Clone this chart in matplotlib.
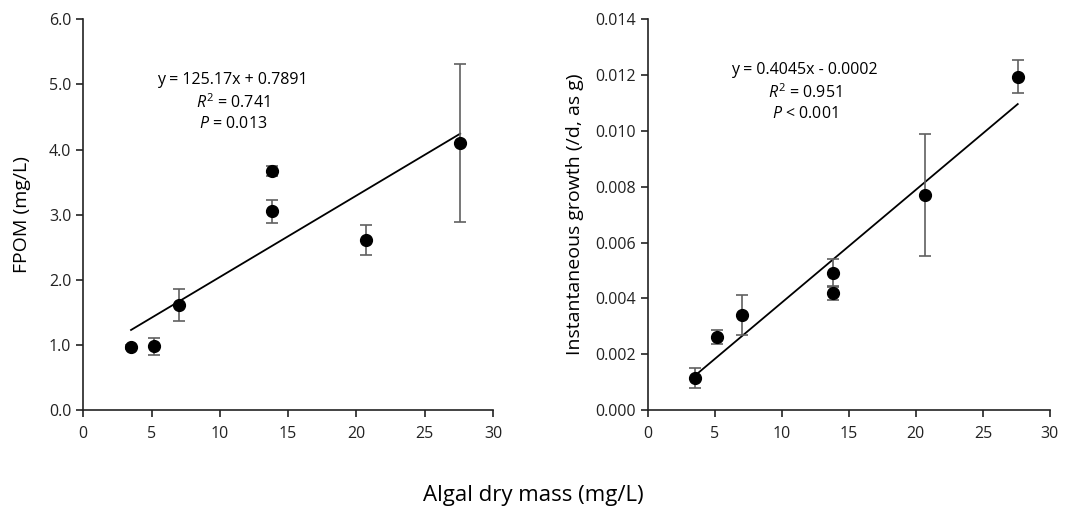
import matplotlib
import numpy as np

matplotlib.use("Agg")
import matplotlib.pyplot as plt

plt.rcParams["font.family"] = ["Open Sans", "DejaVu Sans"]
plt.rcParams["mathtext.fontset"] = "custom"
plt.rcParams["mathtext.rm"] = "Open Sans"
plt.rcParams["mathtext.it"] = "Open Sans:italic"

# algal dry mass (mg/L)
algae = [3.5, 5.2, 7.0, 13.8, 13.8, 20.7, 27.6]

fpom = [0.96, 0.98, 1.61, 3.67, 3.05, 2.61, 4.10]
fpom_err = [0.03, 0.13, 0.25, 0.07, 0.18, 0.23, 1.21]

growth = [0.00115, 0.0026, 0.0034, 0.0049, 0.0042, 0.0077, 0.01195]
growth_err = [0.00035, 0.00025, 0.0007, 0.0005, 0.00025, 0.0022, 0.0006]

# regression on algal mass in g/L
fpom_fit = (125.17, 0.7891)
growth_fit = (0.4045, -0.0002)

fpom_text = "y = 125.17x + 0.7891\n$\\mathit{R}^2$ = 0.741\n$\\mathit{P}$ = 0.013"
growth_text = "y = 0.4045x - 0.0002\n$\\mathit{R}^2$ = 0.951\n$\\mathit{P}$ < 0.001"


def panel(ax, y, yerr, fit, ylim, yticks, fmt, ylabel, pad, note, note_xy):
    x = np.array(algae)
    ax.errorbar(x, y, yerr=yerr, fmt="o", color="black", ms=8.5,
                ecolor="#606060", elinewidth=1.2, capsize=4, capthick=1.2,
                zorder=3)
    xl = np.array([min(algae), max(algae)])
    ax.plot(xl, fit[0] * xl / 1000 + fit[1], color="black", lw=1.3, zorder=2)
    ax.set_xlim(0, 30)
    ax.set_ylim(*ylim)
    ax.set_xticks([0, 5, 10, 15, 20, 25, 30])
    ax.set_yticks(yticks)
    ax.set_yticklabels([fmt.format(v) for v in yticks])
    ax.set_ylabel(ylabel, fontsize=14, labelpad=pad)
    ax.spines["top"].set_visible(False)
    ax.spines["right"].set_visible(False)
    for s in ("left", "bottom"):
        ax.spines[s].set_color("#222222")
        ax.spines[s].set_linewidth(1.2)
    ax.tick_params(direction="out", length=5, width=1.2, labelsize=11.5,
                   color="#222222", labelcolor="#222222")
    ax.tick_params(axis="x", pad=7)
    ax.text(note_xy[0], note_xy[1], note, transform=ax.transAxes,
            ha="center", va="top", fontsize=11.5, linespacing=1.35)


fig = plt.figure(figsize=(10.67, 5.11), dpi=100)
ax1 = fig.add_axes([0.078, 0.198, 0.384, 0.764])
ax2 = fig.add_axes([0.607, 0.198, 0.377, 0.764])

panel(ax1, fpom, fpom_err, fpom_fit, (0, 6), np.arange(0, 6.01, 1.0),
      "{:.1f}", "FPOM (mg/L)", 13, fpom_text, (0.365, 0.865))
panel(ax2, growth, growth_err, growth_fit, (0, 0.014),
      np.arange(0, 0.01401, 0.002), "{:.3f}",
      "Instantaneous growth (/d, as g)", 8, growth_text, (0.39, 0.89))

fig.text(0.5, 0.03, "Algal dry mass (mg/L)", ha="center", va="center",
         fontsize=16)

fig.savefig("out.png", dpi=100)
plt.close(fig)
